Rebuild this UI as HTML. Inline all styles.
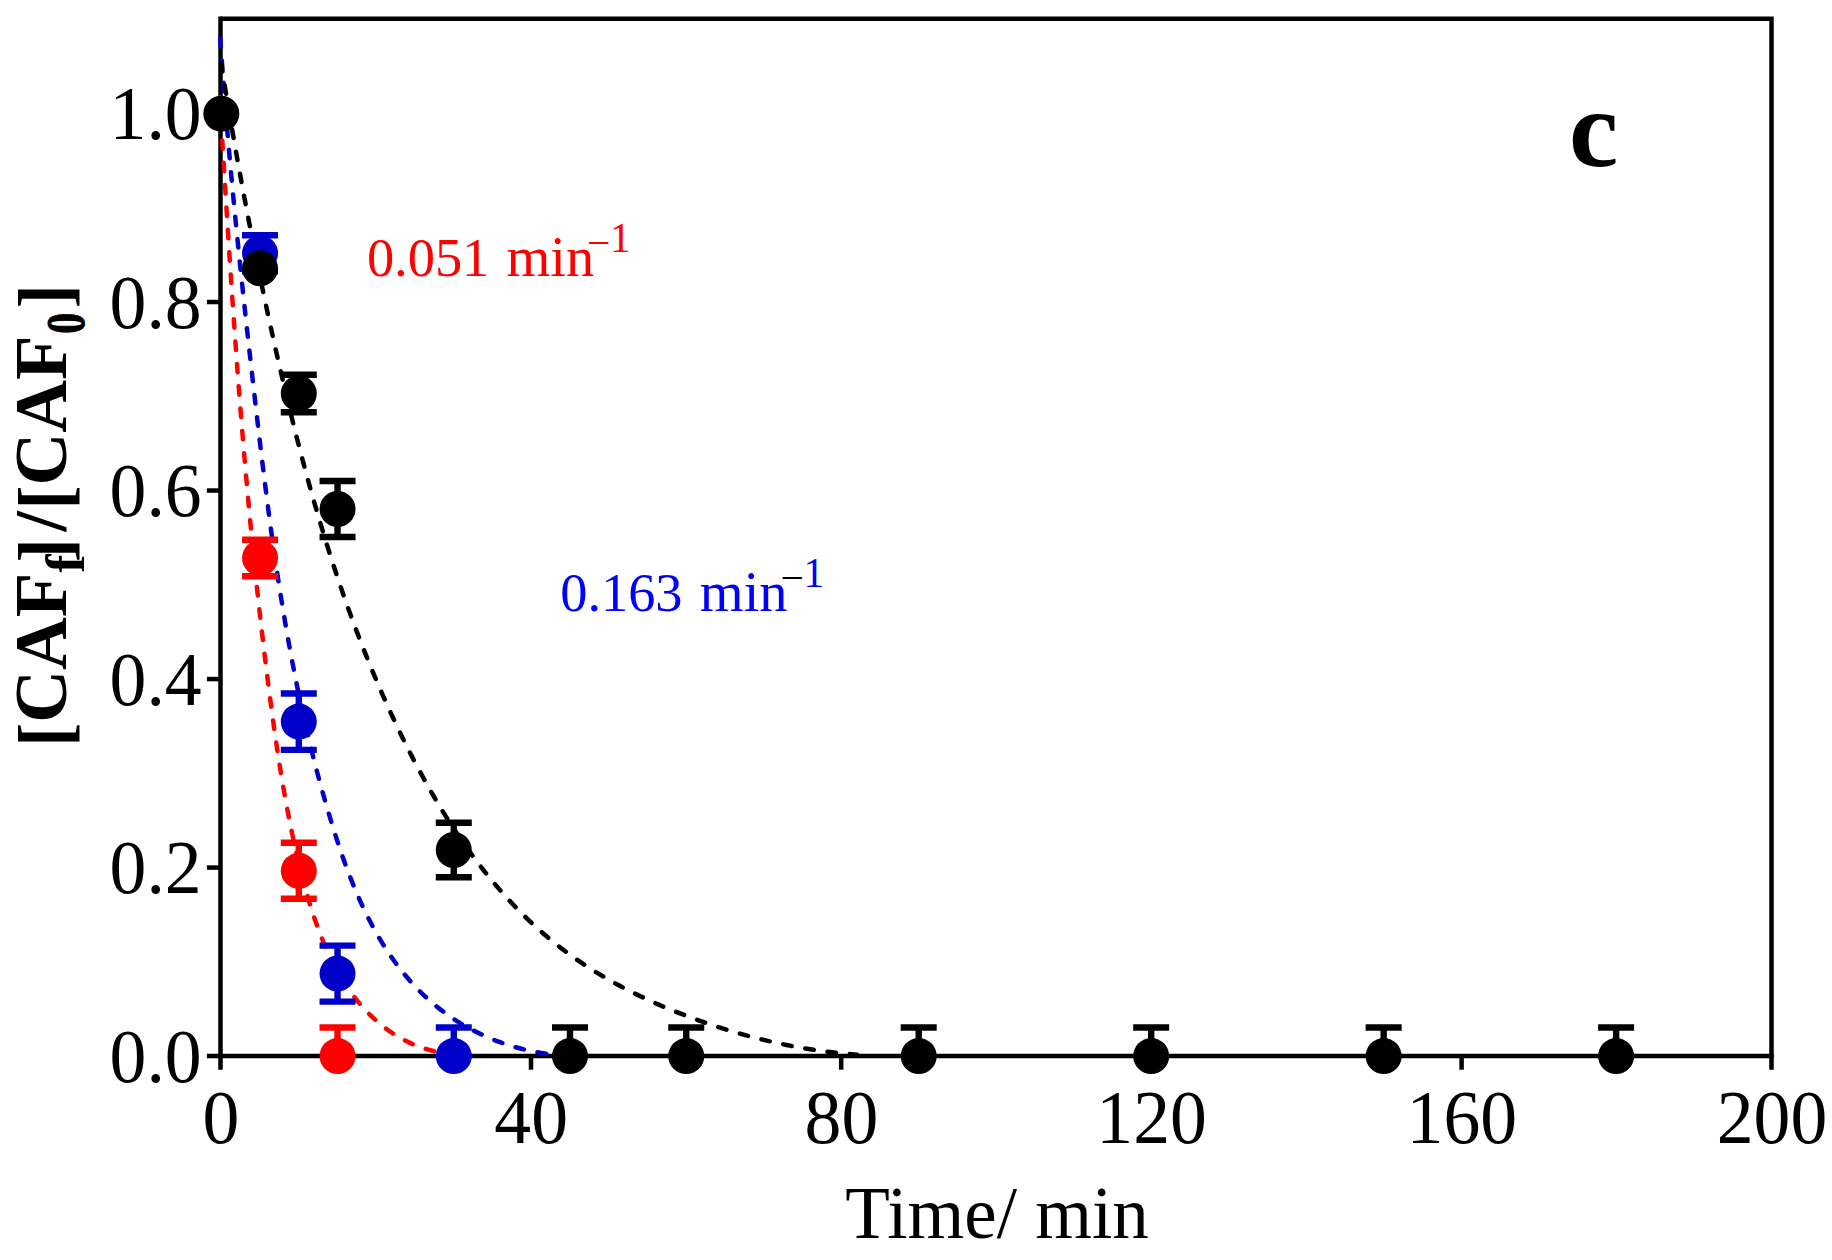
<!DOCTYPE html>
<html lang="en">
<head>
<meta charset="utf-8">
<title>CAF degradation kinetics (panel c)</title>
<style>
html,body{margin:0;padding:0;background:#fff;}
body{width:1832px;height:1260px;overflow:hidden;}
svg{display:block;}
text{white-space:pre;}
</style>
</head>
<body>
<svg width="1832" height="1260" viewBox="0 0 1832 1260">
<rect width="1832" height="1260" fill="#fff"/>
<g id="frame"><path d="M220.50 18.80 H1771.50 V1069.70" fill="none" stroke="#000" stroke-width="4.5" stroke-linejoin="miter"/>
<path d="M220.50 16.55 V1069.70" fill="none" stroke="#000" stroke-width="4.5"/>
<path d="M206.90 1056.10 H1773.75" fill="none" stroke="#000" stroke-width="4.5"/>
<path d="M531.00 1056.10 V1069.70" stroke="#000" stroke-width="4.5"/>
<path d="M841.20 1056.10 V1069.70" stroke="#000" stroke-width="4.5"/>
<path d="M1151.40 1056.10 V1069.70" stroke="#000" stroke-width="4.5"/>
<path d="M1461.60 1056.10 V1069.70" stroke="#000" stroke-width="4.5"/>
<path d="M206.90 867.58 H220.50" stroke="#000" stroke-width="4.5"/>
<path d="M206.90 679.06 H220.50" stroke="#000" stroke-width="4.5"/>
<path d="M206.90 490.54 H220.50" stroke="#000" stroke-width="4.5"/>
<path d="M206.90 302.02 H220.50" stroke="#000" stroke-width="4.5"/>
<path d="M206.90 113.50 H220.50" stroke="#000" stroke-width="4.5"/></g>
<g id="fits"><path d="M219.68 97.23C219.73 98.08 219.89 100.62 219.99 102.31C220.09 104.00 220.19 105.69 220.29 107.38C220.40 109.07 220.50 110.77 220.60 112.46C220.70 114.15 220.80 115.84 220.90 117.54C221.01 119.23 221.11 120.92 221.21 122.61C221.31 124.31 221.41 126.00 221.52 127.69C221.62 129.39 221.72 131.08 221.82 132.77C221.93 134.47 222.03 136.16 222.13 137.85C222.23 139.55 222.34 141.24 222.44 142.94C222.54 144.63 222.64 146.32 222.75 148.02C222.85 149.71 222.95 151.41 223.06 153.10C223.16 154.80 223.26 156.49 223.37 158.19C223.47 159.88 223.57 161.58 223.68 163.27C223.78 164.97 223.88 166.66 223.99 168.36C224.09 170.05 224.19 171.75 224.30 173.45C224.40 175.14 224.51 176.84 224.61 178.53C224.72 180.23 224.82 181.93 224.92 183.62C225.03 185.32 225.13 187.02 225.24 188.71C225.34 190.41 225.45 192.11 225.56 193.80C225.66 195.50 225.77 197.20 225.87 198.89C225.98 200.59 226.08 202.29 226.19 203.99C226.30 205.68 226.40 207.38 226.51 209.08C226.62 210.78 226.72 212.47 226.83 214.17C226.94 215.87 227.04 217.57 227.15 219.26C227.26 220.96 227.37 222.66 227.47 224.36C227.58 226.06 227.69 227.75 227.80 229.45C227.91 231.15 228.01 232.85 228.12 234.55C228.23 236.25 228.34 237.95 228.45 239.64C228.56 241.34 228.67 243.04 228.78 244.74C228.89 246.44 229.00 248.14 229.11 249.84C229.22 251.54 229.33 253.23 229.44 254.93C229.55 256.63 229.66 258.33 229.77 260.03C229.89 261.73 230.00 263.43 230.11 265.13C230.22 266.83 230.33 268.53 230.45 270.23C230.56 271.93 230.67 273.63 230.78 275.33C230.90 277.03 231.01 278.73 231.13 280.42C231.24 282.12 231.35 283.82 231.47 285.52C231.58 287.22 231.70 288.92 231.81 290.62C231.93 292.32 232.04 294.02 232.16 295.72C232.27 297.42 232.39 299.12 232.51 300.82C232.62 302.52 232.74 304.22 232.86 305.92C232.97 307.62 233.09 309.32 233.21 311.02C233.33 312.72 233.45 314.42 233.56 316.12C233.68 317.82 233.80 319.52 233.92 321.22C234.04 322.92 234.16 324.62 234.28 326.32C234.40 328.03 234.52 329.73 234.64 331.43C234.76 333.13 234.88 334.83 235.01 336.53C235.13 338.23 235.25 339.93 235.37 341.63C235.50 343.33 235.62 345.03 235.74 346.73C235.86 348.43 235.99 350.13 236.11 351.83C236.24 353.53 236.36 355.23 236.49 356.93C236.61 358.63 236.74 360.33 236.86 362.03C236.99 363.73 237.12 365.43 237.24 367.13C237.37 368.83 237.50 370.53 237.62 372.23C237.75 373.93 237.88 375.63 238.01 377.33C238.14 379.03 238.27 380.73 238.40 382.43C238.53 384.13 238.66 385.83 238.79 387.53C238.92 389.23 239.05 390.93 239.18 392.63C239.31 394.33 239.45 396.03 239.58 397.73C239.71 399.43 239.84 401.13 239.98 402.83C240.11 404.53 240.24 406.23 240.38 407.93C240.51 409.63 240.65 411.33 240.79 413.03C240.92 414.73 241.06 416.43 241.19 418.12C241.33 419.82 241.47 421.52 241.61 423.22C241.74 424.92 241.88 426.62 242.02 428.32C242.16 430.02 242.30 431.72 242.44 433.42C242.58 435.12 242.72 436.81 242.86 438.51C243.00 440.21 243.14 441.91 243.29 443.61C243.43 445.31 243.57 447.01 243.72 448.71C243.86 450.40 244.00 452.10 244.15 453.80C244.29 455.50 244.44 457.20 244.58 458.90C244.73 460.59 244.88 462.29 245.02 463.99C245.17 465.69 245.32 467.39 245.47 469.08C245.61 470.78 245.76 472.48 245.91 474.18C246.06 475.87 246.21 477.57 246.36 479.27C246.51 480.97 246.67 482.66 246.82 484.36C246.97 486.06 247.12 487.75 247.28 489.45C247.43 491.15 247.58 492.84 247.74 494.54C247.89 496.24 248.05 497.93 248.20 499.63C248.36 501.33 248.52 503.02 248.67 504.72C248.83 506.42 248.99 508.11 249.15 509.81C249.31 511.50 249.47 513.20 249.63 514.89C249.79 516.59 249.95 518.29 250.11 519.98C250.27 521.68 250.43 523.37 250.59 525.07C250.76 526.76 250.92 528.46 251.09 530.15C251.25 531.85 251.41 533.54 251.58 535.24C251.75 536.93 251.91 538.62 252.08 540.32C252.25 542.01 252.41 543.71 252.58 545.40C252.75 547.09 252.92 548.79 253.09 550.48C253.26 552.17 253.43 553.87 253.60 555.56C253.78 557.25 253.95 558.95 254.12 560.64C254.29 562.33 254.47 564.03 254.64 565.72C254.82 567.41 254.99 569.10 255.17 570.80C255.35 572.49 255.52 574.18 255.70 575.87C255.88 577.56 256.06 579.25 256.24 580.95C256.42 582.64 256.60 584.33 256.78 586.02C256.96 587.71 257.14 589.40 257.32 591.09C257.50 592.78 257.69 594.47 257.87 596.16C258.06 597.85 258.24 599.54 258.43 601.23C258.61 602.92 258.80 604.61 258.99 606.30C259.17 607.99 259.36 609.68 259.55 611.37C259.74 613.06 259.93 614.75 260.12 616.44C260.31 618.12 260.51 619.81 260.70 621.50C260.89 623.19 261.08 624.88 261.28 626.56C261.47 628.25 261.67 629.94 261.86 631.63C262.06 633.31 262.26 635.00 262.46 636.69C262.65 638.37 262.85 640.06 263.05 641.75C263.25 643.43 263.45 645.12 263.65 646.81C263.85 648.49 264.06 650.18 264.26 651.86C264.46 653.55 264.67 655.23 264.87 656.92C265.08 658.60 265.28 660.29 265.49 661.97C265.70 663.66 265.90 665.34 266.11 667.02C266.32 668.71 266.53 670.39 266.74 672.07C266.95 673.76 267.17 675.44 267.38 677.12C267.59 678.81 267.80 680.49 268.02 682.17C268.23 683.85 268.45 685.54 268.66 687.22C268.88 688.90 269.10 690.58 269.32 692.26C269.53 693.94 269.75 695.62 269.97 697.30C270.19 698.98 270.42 700.67 270.64 702.35C270.86 704.03 271.08 705.70 271.31 707.38C271.53 709.06 271.76 710.74 271.98 712.42C272.21 714.10 272.44 715.78 272.67 717.46C272.90 719.14 273.13 720.82 273.36 722.49C273.59 724.17 273.83 725.85 274.06 727.53C274.30 729.20 274.53 730.88 274.77 732.56C275.01 734.24 275.25 735.91 275.49 737.59C275.73 739.27 275.98 740.94 276.22 742.62C276.47 744.30 276.72 745.97 276.97 747.65C277.22 749.33 277.47 751.00 277.72 752.68C277.98 754.35 278.23 756.03 278.49 757.70C278.75 759.38 279.01 761.06 279.27 762.73C279.54 764.41 279.80 766.08 280.07 767.76C280.34 769.43 280.61 771.11 280.88 772.78C281.15 774.46 281.43 776.13 281.71 777.81C281.99 779.48 282.27 781.16 282.55 782.83C282.84 784.51 283.12 786.18 283.41 787.86C283.70 789.53 284.00 791.21 284.29 792.88C284.59 794.56 284.89 796.23 285.19 797.91C285.49 799.58 285.80 801.26 286.11 802.93C286.42 804.61 286.73 806.28 287.04 807.96C287.36 809.63 287.68 811.31 288.00 812.98C288.32 814.66 288.65 816.33 288.98 818.01C289.31 819.69 289.64 821.36 289.98 823.04C290.32 824.71 290.66 826.39 291.00 828.06C291.35 829.74 291.70 831.41 292.05 833.09C292.41 834.77 292.76 836.44 293.12 838.12C293.49 839.79 293.85 841.47 294.22 843.15C294.59 844.82 294.96 846.50 295.34 848.18C295.72 849.85 296.10 851.53 296.49 853.21C296.88 854.89 297.27 856.56 297.67 858.24C298.06 859.92 298.46 861.60 298.87 863.27C299.27 864.95 299.68 866.63 300.10 868.31C300.52 869.99 300.94 871.67 301.36 873.34C301.79 875.02 302.22 876.70 302.65 878.38C303.09 880.05 303.53 881.73 303.98 883.41C304.43 885.08 304.88 886.75 305.34 888.43C305.81 890.10 306.27 891.77 306.75 893.44C307.22 895.10 307.70 896.77 308.19 898.43C308.68 900.10 309.18 901.76 309.68 903.41C310.19 905.07 310.70 906.72 311.22 908.37C311.74 910.02 312.27 911.67 312.81 913.31C313.34 914.95 313.89 916.59 314.44 918.22C315.00 919.85 315.56 921.48 316.14 923.10C316.71 924.72 317.30 926.34 317.89 927.95C318.48 929.56 319.09 931.17 319.70 932.77C320.31 934.37 320.94 935.96 321.57 937.55C322.21 939.13 322.85 940.71 323.51 942.29C324.17 943.86 324.83 945.42 325.51 946.98C326.19 948.54 326.89 950.09 327.59 951.63C328.29 953.17 329.01 954.70 329.74 956.23C330.47 957.75 331.21 959.27 331.96 960.77C332.71 962.28 333.48 963.78 334.26 965.26C335.04 966.75 335.83 968.23 336.64 969.70C337.45 971.16 338.27 972.62 339.10 974.07C339.94 975.51 340.79 976.95 341.65 978.37C342.52 979.80 343.40 981.21 344.29 982.61C345.18 984.01 346.09 985.40 347.02 986.78C347.94 988.16 348.88 989.52 349.84 990.87C350.79 992.23 351.76 993.57 352.75 994.89C353.74 996.22 354.74 997.53 355.76 998.83C356.78 1000.13 357.82 1001.42 358.88 1002.69C359.93 1003.96 361.00 1005.22 362.09 1006.46C363.18 1007.70 364.29 1008.92 365.41 1010.13C366.54 1011.34 367.68 1012.53 368.84 1013.70C370.00 1014.87 371.18 1016.03 372.38 1017.17C373.57 1018.30 374.79 1019.42 376.02 1020.52C377.26 1021.62 378.51 1022.70 379.78 1023.76C381.05 1024.81 382.34 1025.85 383.65 1026.87C384.96 1027.88 386.29 1028.88 387.64 1029.85C388.99 1030.82 390.36 1031.77 391.75 1032.69C393.14 1033.62 394.55 1034.52 395.98 1035.40C397.41 1036.27 398.86 1037.13 400.33 1037.95C401.80 1038.78 403.29 1039.58 404.81 1040.35C406.32 1041.13 407.85 1041.88 409.41 1042.60C410.97 1043.32 412.54 1044.01 414.14 1044.67C415.74 1045.34 417.36 1045.97 419.00 1046.58C420.65 1047.19 422.31 1047.76 424.00 1048.31C425.69 1048.85 427.40 1049.37 429.13 1049.85C430.86 1050.34 433.07 1050.88 434.39 1051.21C435.72 1051.54 436.63 1051.71 437.08 1051.81" fill="none" stroke="#ff0000" stroke-width="4.5" stroke-linecap="round" stroke-dasharray="8.50 13.90" stroke-dashoffset="1.57"/><path d="M220.28 38.37C220.34 39.31 220.53 42.14 220.66 44.03C220.79 45.92 220.92 47.80 221.05 49.69C221.18 51.58 221.31 53.46 221.44 55.35C221.58 57.24 221.71 59.12 221.84 61.01C221.98 62.90 222.12 64.78 222.25 66.67C222.39 68.56 222.53 70.45 222.67 72.33C222.81 74.22 222.95 76.11 223.09 77.99C223.23 79.88 223.38 81.77 223.52 83.65C223.66 85.54 223.81 87.43 223.95 89.32C224.10 91.20 224.25 93.09 224.40 94.98C224.54 96.86 224.69 98.75 224.84 100.64C224.99 102.52 225.14 104.41 225.30 106.30C225.45 108.18 225.60 110.07 225.75 111.96C225.91 113.85 226.06 115.73 226.22 117.62C226.37 119.51 226.53 121.39 226.69 123.28C226.85 125.17 227.01 127.05 227.17 128.94C227.33 130.83 227.49 132.72 227.65 134.60C227.81 136.49 227.97 138.38 228.14 140.26C228.30 142.15 228.46 144.04 228.63 145.92C228.79 147.81 228.96 149.70 229.13 151.58C229.29 153.47 229.46 155.36 229.63 157.24C229.80 159.13 229.97 161.02 230.14 162.90C230.31 164.79 230.48 166.68 230.65 168.56C230.82 170.45 231.00 172.34 231.17 174.22C231.35 176.11 231.52 178.00 231.70 179.88C231.87 181.77 232.05 183.66 232.22 185.54C232.40 187.43 232.58 189.32 232.76 191.20C232.94 193.09 233.12 194.98 233.30 196.86C233.48 198.75 233.66 200.64 233.84 202.52C234.02 204.41 234.20 206.29 234.39 208.18C234.57 210.07 234.75 211.95 234.94 213.84C235.12 215.73 235.31 217.61 235.49 219.50C235.68 221.38 235.87 223.27 236.05 225.16C236.24 227.04 236.43 228.93 236.62 230.81C236.81 232.70 237.00 234.59 237.19 236.47C237.38 238.36 237.57 240.24 237.76 242.13C237.95 244.02 238.14 245.90 238.33 247.79C238.53 249.67 238.72 251.56 238.91 253.44C239.11 255.33 239.30 257.22 239.50 259.10C239.69 260.99 239.89 262.87 240.09 264.76C240.28 266.64 240.48 268.53 240.68 270.41C240.87 272.30 241.07 274.18 241.27 276.07C241.47 277.96 241.67 279.84 241.87 281.73C242.07 283.61 242.27 285.50 242.47 287.38C242.67 289.27 242.87 291.15 243.07 293.04C243.28 294.92 243.48 296.81 243.68 298.69C243.88 300.58 244.09 302.46 244.29 304.35C244.50 306.23 244.70 308.11 244.91 310.00C245.11 311.88 245.32 313.77 245.52 315.65C245.73 317.54 245.93 319.42 246.14 321.31C246.35 323.19 246.56 325.07 246.76 326.96C246.97 328.84 247.18 330.73 247.39 332.61C247.60 334.50 247.81 336.38 248.02 338.26C248.22 340.15 248.43 342.03 248.64 343.91C248.85 345.80 249.07 347.68 249.28 349.57C249.49 351.45 249.70 353.33 249.91 355.22C250.12 357.10 250.33 358.98 250.55 360.87C250.76 362.75 250.97 364.63 251.19 366.52C251.40 368.40 251.61 370.28 251.83 372.17C252.04 374.05 252.25 375.93 252.47 377.82C252.68 379.70 252.90 381.58 253.11 383.46C253.33 385.35 253.54 387.23 253.76 389.11C253.97 390.99 254.19 392.88 254.41 394.76C254.62 396.64 254.84 398.52 255.06 400.41C255.27 402.29 255.49 404.17 255.71 406.05C255.92 407.93 256.14 409.82 256.36 411.70C256.58 413.58 256.80 415.46 257.01 417.34C257.23 419.22 257.45 421.11 257.67 422.99C257.89 424.87 258.11 426.75 258.33 428.63C258.55 430.51 258.77 432.39 259.00 434.27C259.22 436.16 259.44 438.04 259.66 439.92C259.89 441.80 260.11 443.68 260.33 445.56C260.56 447.44 260.78 449.32 261.01 451.20C261.23 453.08 261.46 454.96 261.69 456.84C261.91 458.72 262.14 460.60 262.37 462.48C262.60 464.36 262.83 466.24 263.06 468.11C263.29 469.99 263.52 471.87 263.75 473.75C263.99 475.63 264.22 477.51 264.45 479.39C264.69 481.26 264.92 483.14 265.16 485.02C265.40 486.90 265.63 488.78 265.87 490.65C266.11 492.53 266.35 494.41 266.59 496.29C266.83 498.16 267.07 500.04 267.32 501.92C267.56 503.79 267.80 505.67 268.05 507.54C268.29 509.42 268.54 511.30 268.79 513.17C269.04 515.05 269.29 516.92 269.54 518.80C269.79 520.67 270.04 522.55 270.29 524.42C270.55 526.30 270.80 528.17 271.06 530.05C271.32 531.92 271.57 533.79 271.83 535.67C272.09 537.54 272.35 539.42 272.62 541.29C272.88 543.16 273.14 545.03 273.41 546.91C273.68 548.78 273.94 550.65 274.21 552.52C274.48 554.39 274.75 556.27 275.02 558.14C275.30 560.01 275.57 561.88 275.85 563.75C276.12 565.62 276.40 567.49 276.68 569.36C276.96 571.23 277.24 573.10 277.53 574.97C277.81 576.84 278.09 578.71 278.38 580.58C278.67 582.45 278.96 584.32 279.25 586.18C279.54 588.05 279.83 589.92 280.13 591.79C280.42 593.65 280.72 595.52 281.02 597.39C281.32 599.25 281.62 601.12 281.93 602.99C282.23 604.85 282.54 606.72 282.84 608.58C283.15 610.45 283.46 612.31 283.77 614.18C284.09 616.04 284.40 617.91 284.72 619.77C285.04 621.63 285.36 623.50 285.68 625.36C286.00 627.22 286.32 629.08 286.65 630.95C286.98 632.81 287.31 634.67 287.64 636.53C287.97 638.39 288.30 640.25 288.64 642.11C288.98 643.97 289.32 645.83 289.66 647.69C290.00 649.55 290.34 651.41 290.69 653.27C291.04 655.13 291.39 656.99 291.74 658.85C292.09 660.70 292.45 662.56 292.80 664.42C293.16 666.28 293.52 668.13 293.89 669.99C294.25 671.84 294.62 673.70 294.98 675.56C295.35 677.41 295.72 679.26 296.10 681.12C296.47 682.97 296.85 684.83 297.23 686.68C297.61 688.53 298.00 690.39 298.38 692.24C298.77 694.09 299.16 695.94 299.55 697.79C299.94 699.65 300.34 701.50 300.74 703.35C301.14 705.20 301.54 707.05 301.94 708.90C302.35 710.74 302.76 712.59 303.17 714.44C303.58 716.29 303.99 718.14 304.41 719.98C304.83 721.83 305.25 723.68 305.68 725.52C306.10 727.37 306.53 729.22 306.96 731.06C307.39 732.91 307.82 734.75 308.26 736.59C308.70 738.44 309.14 740.28 309.59 742.12C310.03 743.97 310.48 745.81 310.93 747.65C311.38 749.49 311.84 751.33 312.30 753.18C312.76 755.02 313.22 756.86 313.69 758.70C314.15 760.53 314.62 762.37 315.10 764.21C315.57 766.05 316.05 767.89 316.53 769.72C317.01 771.56 317.49 773.40 317.98 775.23C318.47 777.07 318.96 778.91 319.46 780.74C319.96 782.57 320.46 784.41 320.96 786.24C321.47 788.08 321.97 789.91 322.49 791.74C323.00 793.57 323.51 795.40 324.03 797.23C324.55 799.07 325.08 800.90 325.60 802.73C326.13 804.55 326.66 806.38 327.20 808.21C327.74 810.04 328.28 811.87 328.82 813.70C329.37 815.52 329.91 817.35 330.47 819.17C331.02 821.00 331.58 822.82 332.14 824.65C332.70 826.47 333.27 828.29 333.84 830.12C334.41 831.94 334.99 833.76 335.57 835.57C336.15 837.39 336.74 839.21 337.33 841.02C337.93 842.83 338.53 844.65 339.13 846.45C339.74 848.26 340.35 850.07 340.97 851.87C341.59 853.68 342.21 855.48 342.84 857.27C343.47 859.07 344.11 860.86 344.76 862.65C345.40 864.44 346.06 866.23 346.72 868.01C347.38 869.79 348.05 871.57 348.73 873.34C349.40 875.11 350.09 876.88 350.78 878.64C351.47 880.41 352.18 882.17 352.89 883.92C353.60 885.67 354.32 887.42 355.05 889.16C355.77 890.91 356.51 892.64 357.26 894.37C358.01 896.10 358.76 897.83 359.53 899.55C360.30 901.27 361.08 902.98 361.86 904.68C362.65 906.39 363.45 908.09 364.26 909.78C365.06 911.47 365.88 913.16 366.71 914.83C367.54 916.51 368.39 918.18 369.24 919.84C370.09 921.50 370.95 923.16 371.83 924.80C372.71 926.45 373.59 928.08 374.50 929.71C375.40 931.34 376.31 932.96 377.23 934.57C378.16 936.18 379.09 937.78 380.05 939.38C381.00 940.97 381.96 942.55 382.94 944.13C383.91 945.70 384.90 947.26 385.91 948.82C386.91 950.37 387.93 951.91 388.96 953.45C389.99 954.98 391.04 956.50 392.10 958.01C393.15 959.52 394.23 961.02 395.31 962.51C396.40 963.99 397.50 965.47 398.62 966.93C399.74 968.39 400.87 969.84 402.01 971.28C403.16 972.71 404.32 974.14 405.49 975.55C406.67 976.96 407.86 978.35 409.06 979.73C410.26 981.12 411.48 982.48 412.72 983.84C413.95 985.19 415.20 986.53 416.47 987.85C417.74 989.17 419.02 990.48 420.31 991.77C421.61 993.06 422.92 994.33 424.25 995.59C425.58 996.85 426.93 998.09 428.29 999.31C429.65 1000.54 431.02 1001.75 432.42 1002.93C433.81 1004.12 435.22 1005.30 436.64 1006.45C438.06 1007.61 439.50 1008.74 440.96 1009.86C442.41 1010.98 443.88 1012.08 445.37 1013.17C446.85 1014.25 448.35 1015.31 449.87 1016.36C451.38 1017.41 452.91 1018.44 454.45 1019.45C456.00 1020.45 457.55 1021.45 459.13 1022.42C460.70 1023.39 462.29 1024.34 463.89 1025.28C465.49 1026.21 467.10 1027.12 468.73 1028.02C470.36 1028.91 472.00 1029.79 473.65 1030.65C475.31 1031.50 476.98 1032.34 478.66 1033.15C480.34 1033.97 482.03 1034.77 483.74 1035.54C485.45 1036.32 487.17 1037.08 488.90 1037.81C490.64 1038.55 492.38 1039.26 494.14 1039.96C495.90 1040.65 497.67 1041.32 499.45 1041.98C501.24 1042.63 503.03 1043.26 504.84 1043.87C506.64 1044.48 508.46 1045.07 510.29 1045.64C512.12 1046.20 513.96 1046.75 515.82 1047.27C517.67 1047.80 519.53 1048.30 521.41 1048.78C523.29 1049.26 525.17 1049.72 527.07 1050.15C528.97 1050.59 530.87 1051.00 532.79 1051.40C534.71 1051.79 536.64 1052.16 538.58 1052.50C540.52 1052.85 542.96 1053.24 544.43 1053.47C545.90 1053.70 546.89 1053.83 547.38 1053.90" fill="none" stroke="#0000c8" stroke-width="4.5" stroke-linecap="round" stroke-dasharray="8.50 13.91" stroke-dashoffset="0.20"/><path d="M220.62 60.13C220.78 61.19 221.29 64.36 221.63 66.48C221.97 68.60 222.31 70.72 222.65 72.84C222.99 74.96 223.34 77.08 223.68 79.20C224.03 81.32 224.37 83.44 224.72 85.56C225.07 87.68 225.41 89.80 225.76 91.92C226.12 94.04 226.47 96.16 226.82 98.28C227.17 100.40 227.53 102.52 227.88 104.64C228.24 106.76 228.60 108.88 228.95 111.00C229.31 113.12 229.67 115.24 230.03 117.36C230.40 119.48 230.76 121.60 231.12 123.72C231.49 125.84 231.85 127.96 232.22 130.08C232.59 132.20 232.95 134.32 233.32 136.44C233.69 138.56 234.07 140.68 234.44 142.80C234.81 144.92 235.19 147.04 235.56 149.16C235.94 151.28 236.31 153.40 236.69 155.52C237.07 157.64 237.45 159.76 237.83 161.88C238.21 164.00 238.60 166.12 238.98 168.24C239.37 170.36 239.75 172.48 240.14 174.60C240.53 176.72 240.91 178.84 241.30 180.96C241.70 183.08 242.09 185.20 242.48 187.31C242.87 189.43 243.27 191.55 243.66 193.67C244.06 195.79 244.46 197.91 244.86 200.03C245.26 202.14 245.66 204.26 246.06 206.38C246.46 208.50 246.87 210.62 247.27 212.73C247.68 214.85 248.08 216.97 248.49 219.09C248.90 221.20 249.31 223.32 249.72 225.44C250.13 227.55 250.55 229.67 250.96 231.79C251.37 233.90 251.79 236.02 252.21 238.13C252.63 240.25 253.04 242.37 253.47 244.48C253.89 246.60 254.31 248.71 254.73 250.83C255.16 252.94 255.58 255.06 256.01 257.17C256.43 259.28 256.86 261.40 257.29 263.51C257.72 265.62 258.15 267.74 258.59 269.85C259.02 271.96 259.46 274.08 259.89 276.19C260.33 278.30 260.77 280.41 261.21 282.53C261.64 284.64 262.09 286.75 262.53 288.86C262.97 290.97 263.42 293.08 263.86 295.19C264.31 297.30 264.75 299.41 265.20 301.52C265.65 303.63 266.10 305.74 266.56 307.85C267.01 309.96 267.46 312.06 267.92 314.17C268.37 316.28 268.83 318.39 269.29 320.49C269.75 322.60 270.21 324.71 270.67 326.81C271.13 328.92 271.60 331.03 272.06 333.13C272.53 335.24 272.99 337.34 273.46 339.45C273.93 341.55 274.40 343.65 274.87 345.76C275.35 347.86 275.82 349.96 276.30 352.07C276.77 354.17 277.25 356.27 277.73 358.37C278.20 360.47 278.69 362.57 279.17 364.67C279.65 366.77 280.13 368.87 280.62 370.97C281.10 373.07 281.59 375.17 282.08 377.27C282.57 379.37 283.06 381.47 283.55 383.56C284.05 385.66 284.54 387.76 285.04 389.85C285.54 391.95 286.04 394.04 286.54 396.14C287.04 398.23 287.54 400.33 288.05 402.42C288.55 404.51 289.06 406.60 289.57 408.70C290.08 410.79 290.59 412.88 291.10 414.97C291.62 417.06 292.14 419.15 292.65 421.24C293.17 423.33 293.69 425.41 294.22 427.50C294.74 429.59 295.27 431.68 295.80 433.76C296.33 435.85 296.86 437.93 297.39 440.02C297.92 442.10 298.46 444.19 299.00 446.27C299.54 448.35 300.08 450.43 300.62 452.51C301.17 454.59 301.71 456.67 302.26 458.75C302.81 460.83 303.37 462.91 303.92 464.99C304.48 467.07 305.04 469.14 305.60 471.22C306.16 473.29 306.72 475.37 307.29 477.44C307.86 479.52 308.43 481.59 309.00 483.66C309.57 485.73 310.15 487.80 310.73 489.87C311.31 491.94 311.89 494.01 312.47 496.08C313.06 498.15 313.65 500.21 314.24 502.28C314.83 504.35 315.43 506.41 316.03 508.48C316.63 510.54 317.23 512.60 317.83 514.66C318.44 516.72 319.05 518.79 319.66 520.84C320.27 522.90 320.89 524.96 321.51 527.02C322.13 529.08 322.75 531.13 323.38 533.19C324.00 535.24 324.63 537.30 325.27 539.35C325.90 541.40 326.54 543.45 327.18 545.50C327.82 547.55 328.47 549.60 329.12 551.65C329.76 553.70 330.42 555.75 331.07 557.79C331.73 559.84 332.39 561.88 333.06 563.92C333.72 565.97 334.39 568.01 335.06 570.05C335.73 572.09 336.41 574.13 337.09 576.16C337.77 578.20 338.46 580.24 339.15 582.27C339.84 584.31 340.53 586.34 341.23 588.37C341.92 590.41 342.63 592.44 343.33 594.47C344.04 596.50 344.75 598.53 345.46 600.55C346.18 602.58 346.90 604.60 347.62 606.63C348.34 608.65 349.07 610.68 349.80 612.70C350.54 614.72 351.27 616.74 352.02 618.76C352.76 620.77 353.50 622.79 354.26 624.81C355.01 626.82 355.76 628.83 356.52 630.85C357.28 632.86 358.05 634.87 358.82 636.88C359.59 638.89 360.36 640.90 361.14 642.90C361.92 644.91 362.71 646.91 363.50 648.92C364.29 650.92 365.08 652.92 365.88 654.92C366.68 656.92 367.49 658.92 368.30 660.91C369.11 662.91 369.92 664.91 370.74 666.90C371.56 668.89 372.39 670.88 373.22 672.87C374.05 674.86 374.88 676.85 375.72 678.84C376.56 680.82 377.41 682.81 378.26 684.79C379.11 686.78 379.97 688.76 380.83 690.74C381.70 692.72 382.56 694.69 383.44 696.67C384.31 698.65 385.19 700.62 386.07 702.59C386.96 704.57 387.85 706.54 388.74 708.51C389.64 710.47 390.54 712.44 391.45 714.41C392.36 716.37 393.27 718.34 394.19 720.30C395.11 722.26 396.03 724.22 396.96 726.18C397.89 728.13 398.83 730.09 399.77 732.04C400.71 734.00 401.66 735.95 402.61 737.90C403.57 739.85 404.53 741.80 405.50 743.74C406.46 745.68 407.44 747.63 408.42 749.57C409.40 751.50 410.38 753.44 411.37 755.37C412.37 757.31 413.36 759.24 414.37 761.16C415.38 763.09 416.39 765.01 417.41 766.93C418.43 768.85 419.45 770.77 420.48 772.68C421.52 774.59 422.56 776.50 423.60 778.40C424.65 780.30 425.70 782.20 426.77 784.10C427.83 785.99 428.89 787.88 429.97 789.77C431.05 791.65 432.13 793.53 433.22 795.41C434.31 797.28 435.41 799.15 436.51 801.02C437.62 802.88 438.73 804.74 439.85 806.60C440.97 808.45 442.10 810.30 443.24 812.14C444.38 813.99 445.52 815.82 446.67 817.65C447.82 819.49 448.98 821.31 450.15 823.13C451.32 824.95 452.50 826.76 453.68 828.57C454.87 830.37 456.06 832.17 457.26 833.96C458.47 835.75 459.68 837.54 460.89 839.32C462.11 841.10 463.34 842.87 464.58 844.63C465.81 846.39 467.06 848.15 468.31 849.90C469.56 851.65 470.83 853.39 472.10 855.12C473.37 856.85 474.65 858.58 475.94 860.29C477.23 862.01 478.53 863.72 479.83 865.42C481.14 867.12 482.46 868.81 483.79 870.49C485.11 872.18 486.45 873.85 487.79 875.51C489.14 877.18 490.49 878.84 491.86 880.48C493.22 882.13 494.59 883.77 495.98 885.39C497.36 887.02 498.76 888.64 500.16 890.25C501.56 891.86 502.98 893.45 504.40 895.04C505.82 896.63 507.26 898.21 508.70 899.78C510.14 901.35 511.60 902.90 513.06 904.45C514.52 906.00 516.00 907.53 517.48 909.06C518.97 910.59 520.46 912.10 521.97 913.60C523.48 915.11 524.99 916.60 526.52 918.08C528.05 919.56 529.58 921.03 531.13 922.49C532.68 923.95 534.24 925.39 535.81 926.83C537.38 928.26 538.96 929.68 540.56 931.09C542.15 932.50 543.75 933.90 545.37 935.29C546.98 936.67 548.61 938.05 550.25 939.41C551.89 940.77 553.53 942.11 555.20 943.45C556.86 944.78 558.53 946.10 560.21 947.41C561.90 948.72 563.59 950.02 565.30 951.30C567.01 952.58 568.72 953.85 570.46 955.10C572.19 956.35 573.93 957.60 575.68 958.82C577.44 960.05 579.20 961.26 580.98 962.46C582.75 963.66 584.54 964.85 586.34 966.02C588.13 967.20 589.94 968.36 591.76 969.51C593.58 970.66 595.40 971.79 597.24 972.91C599.08 974.03 600.92 975.14 602.78 976.24C604.63 977.34 606.50 978.42 608.37 979.49C610.24 980.56 612.12 981.62 614.01 982.67C615.90 983.71 617.80 984.75 619.71 985.77C621.61 986.79 623.53 987.80 625.45 988.80C627.37 989.80 629.29 990.78 631.23 991.76C633.16 992.73 635.11 993.69 637.05 994.64C639.00 995.59 640.96 996.53 642.92 997.46C644.88 998.38 646.84 999.30 648.82 1000.20C650.79 1001.10 652.77 1002.00 654.75 1002.88C656.73 1003.76 658.72 1004.63 660.71 1005.49C662.71 1006.35 664.70 1007.19 666.70 1008.03C668.71 1008.87 670.71 1009.69 672.72 1010.51C674.73 1011.32 676.75 1012.12 678.76 1012.92C680.78 1013.71 682.80 1014.49 684.82 1015.26C686.85 1016.04 688.87 1016.80 690.90 1017.55C692.93 1018.30 694.96 1019.04 697.00 1019.77C699.03 1020.50 701.06 1021.22 703.10 1021.93C705.14 1022.64 707.18 1023.34 709.22 1024.03C711.26 1024.72 713.30 1025.41 715.34 1026.08C717.39 1026.75 719.43 1027.41 721.48 1028.05C723.53 1028.70 725.58 1029.34 727.63 1029.97C729.68 1030.60 731.73 1031.22 733.79 1031.83C735.84 1032.44 737.90 1033.03 739.96 1033.62C742.02 1034.21 744.08 1034.79 746.14 1035.35C748.20 1035.92 750.27 1036.47 752.34 1037.02C754.40 1037.56 756.47 1038.09 758.55 1038.62C760.62 1039.14 762.69 1039.65 764.77 1040.15C766.85 1040.65 768.93 1041.14 771.01 1041.62C773.10 1042.10 775.18 1042.57 777.27 1043.03C779.36 1043.48 781.45 1043.93 783.54 1044.36C785.64 1044.80 787.73 1045.22 789.83 1045.63C791.93 1046.04 794.03 1046.44 796.14 1046.83C798.25 1047.22 800.35 1047.60 802.47 1047.96C804.58 1048.33 806.69 1048.68 808.81 1049.02C810.93 1049.36 813.05 1049.69 815.18 1050.01C817.30 1050.33 819.43 1050.64 821.56 1050.93C823.69 1051.23 825.83 1051.51 827.97 1051.78C830.11 1052.05 832.25 1052.31 834.39 1052.56C836.54 1052.80 838.69 1053.04 840.84 1053.26C843.00 1053.48 845.15 1053.69 847.32 1053.89C849.48 1054.09 852.19 1054.31 853.81 1054.45C855.44 1054.58 856.53 1054.66 857.07 1054.70" fill="none" stroke="#000000" stroke-width="4.5" stroke-linecap="round" stroke-dasharray="8.50 13.92" stroke-dashoffset="19.29"/></g>
<g id="red-points"><path d="M260.05 539.70 V576.30" stroke="#ff0000" stroke-width="6.4" fill="none"/>
<path d="M242.05 539.70 H278.05" stroke="#ff0000" stroke-width="6.4" fill="none"/>
<path d="M242.05 576.30 H278.05" stroke="#ff0000" stroke-width="6.4" fill="none"/>
<circle cx="260.05" cy="558.00" r="18.0" fill="#ff0000"/>
<path d="M298.79 842.80 V898.80" stroke="#ff0000" stroke-width="6.4" fill="none"/>
<path d="M280.79 842.80 H316.79" stroke="#ff0000" stroke-width="6.4" fill="none"/>
<path d="M280.79 898.80 H316.79" stroke="#ff0000" stroke-width="6.4" fill="none"/>
<circle cx="298.79" cy="870.80" r="18.0" fill="#ff0000"/>
<path d="M337.54 1027.50 V1056.10" stroke="#ff0000" stroke-width="6.4" fill="none"/>
<path d="M319.54 1027.50 H355.54" stroke="#ff0000" stroke-width="6.4" fill="none"/>
<circle cx="337.54" cy="1056.10" r="18.0" fill="#ff0000"/></g>
<g id="blue-points"><path d="M260.05 235.20 V271.40" stroke="#0000c8" stroke-width="6.4" fill="none"/>
<path d="M242.05 235.20 H278.05" stroke="#0000c8" stroke-width="6.4" fill="none"/>
<path d="M242.05 271.40 H278.05" stroke="#0000c8" stroke-width="6.4" fill="none"/>
<circle cx="260.05" cy="253.20" r="18.0" fill="#0000c8"/>
<path d="M298.79 693.50 V749.90" stroke="#0000c8" stroke-width="6.4" fill="none"/>
<path d="M280.79 693.50 H316.79" stroke="#0000c8" stroke-width="6.4" fill="none"/>
<path d="M280.79 749.90 H316.79" stroke="#0000c8" stroke-width="6.4" fill="none"/>
<circle cx="298.79" cy="721.60" r="18.0" fill="#0000c8"/>
<path d="M337.54 945.60 V1001.60" stroke="#0000c8" stroke-width="6.4" fill="none"/>
<path d="M319.54 945.60 H355.54" stroke="#0000c8" stroke-width="6.4" fill="none"/>
<path d="M319.54 1001.60 H355.54" stroke="#0000c8" stroke-width="6.4" fill="none"/>
<circle cx="337.54" cy="973.60" r="18.0" fill="#0000c8"/>
<path d="M453.77 1027.50 V1056.10" stroke="#0000c8" stroke-width="6.4" fill="none"/>
<path d="M435.77 1027.50 H471.77" stroke="#0000c8" stroke-width="6.4" fill="none"/>
<circle cx="453.77" cy="1056.10" r="18.0" fill="#0000c8"/></g>
<g id="black-points"><circle cx="221.30" cy="113.70" r="18.0" fill="#000000"/>
<circle cx="260.05" cy="268.30" r="18.0" fill="#000000"/>
<path d="M298.79 374.70 V412.30" stroke="#000000" stroke-width="6.4" fill="none"/>
<path d="M280.79 374.70 H316.79" stroke="#000000" stroke-width="6.4" fill="none"/>
<path d="M280.79 412.30 H316.79" stroke="#000000" stroke-width="6.4" fill="none"/>
<circle cx="298.79" cy="393.50" r="18.0" fill="#000000"/>
<path d="M337.54 481.00 V537.00" stroke="#000000" stroke-width="6.4" fill="none"/>
<path d="M319.54 481.00 H355.54" stroke="#000000" stroke-width="6.4" fill="none"/>
<path d="M319.54 537.00 H355.54" stroke="#000000" stroke-width="6.4" fill="none"/>
<circle cx="337.54" cy="509.00" r="18.0" fill="#000000"/>
<path d="M453.77 822.80 V877.20" stroke="#000000" stroke-width="6.4" fill="none"/>
<path d="M435.77 822.80 H471.77" stroke="#000000" stroke-width="6.4" fill="none"/>
<path d="M435.77 877.20 H471.77" stroke="#000000" stroke-width="6.4" fill="none"/>
<circle cx="453.77" cy="850.00" r="18.0" fill="#000000"/>
<path d="M570.00 1027.50 V1056.10" stroke="#000000" stroke-width="6.4" fill="none"/>
<path d="M552.00 1027.50 H588.00" stroke="#000000" stroke-width="6.4" fill="none"/>
<circle cx="570.00" cy="1056.10" r="18.0" fill="#000000"/>
<path d="M686.24 1027.50 V1056.10" stroke="#000000" stroke-width="6.4" fill="none"/>
<path d="M668.24 1027.50 H704.24" stroke="#000000" stroke-width="6.4" fill="none"/>
<circle cx="686.24" cy="1056.10" r="18.0" fill="#000000"/>
<path d="M918.71 1027.50 V1056.10" stroke="#000000" stroke-width="6.4" fill="none"/>
<path d="M900.71 1027.50 H936.71" stroke="#000000" stroke-width="6.4" fill="none"/>
<circle cx="918.71" cy="1056.10" r="18.0" fill="#000000"/>
<path d="M1151.18 1027.50 V1056.10" stroke="#000000" stroke-width="6.4" fill="none"/>
<path d="M1133.18 1027.50 H1169.18" stroke="#000000" stroke-width="6.4" fill="none"/>
<circle cx="1151.18" cy="1056.10" r="18.0" fill="#000000"/>
<path d="M1383.65 1027.50 V1056.10" stroke="#000000" stroke-width="6.4" fill="none"/>
<path d="M1365.65 1027.50 H1401.65" stroke="#000000" stroke-width="6.4" fill="none"/>
<circle cx="1383.65" cy="1056.10" r="18.0" fill="#000000"/>
<path d="M1616.12 1027.50 V1056.10" stroke="#000000" stroke-width="6.4" fill="none"/>
<path d="M1598.12 1027.50 H1634.12" stroke="#000000" stroke-width="6.4" fill="none"/>
<circle cx="1616.12" cy="1056.10" r="18.0" fill="#000000"/></g>
<g id="ticklabels" font-family="'Liberation Serif', 'Times New Roman', serif" font-size="75.6" fill="#000"><text transform="translate(201.7 1081.9) scale(0.975 1)" text-anchor="end">0.0</text>
<text transform="translate(201.7 893.4) scale(0.975 1)" text-anchor="end">0.2</text>
<text transform="translate(201.7 704.9) scale(0.975 1)" text-anchor="end">0.4</text>
<text transform="translate(201.7 516.3) scale(0.975 1)" text-anchor="end">0.6</text>
<text transform="translate(201.7 327.8) scale(0.975 1)" text-anchor="end">0.8</text>
<text transform="translate(201.7 139.3) scale(0.975 1)" text-anchor="end">1.0</text>
<text transform="translate(221.0 1142.8) scale(0.975 1)" text-anchor="middle">0</text>
<text transform="translate(531.2 1142.8) scale(0.975 1)" text-anchor="middle">40</text>
<text transform="translate(841.4 1142.8) scale(0.975 1)" text-anchor="middle">80</text>
<text transform="translate(1151.6 1142.8) scale(0.975 1)" text-anchor="middle">120</text>
<text transform="translate(1461.8 1142.8) scale(0.975 1)" text-anchor="middle">160</text>
<text transform="translate(1772.0 1142.8) scale(0.975 1)" text-anchor="middle">200</text></g>
<text id="xtitle" x="997" y="1238.3" text-anchor="middle" font-family="'Liberation Serif', 'Times New Roman', serif" font-size="73" fill="#000">Time/ min</text>
<text id="ytitle" transform="translate(66 745) rotate(-90)" font-family="'Liberation Serif', 'Times New Roman', serif" font-weight="bold" font-size="73" fill="#000"><tspan x="-2.0" y="4.0" font-size="73">[</tspan><tspan x="22.3" y="0.0" font-size="73">CAF</tspan><tspan x="172.3" y="17.6" font-size="55">f</tspan><tspan x="182.6" y="4.0" font-size="73">]</tspan><tspan x="213.4" y="0.0" font-size="73">/</tspan><tspan x="235.2" y="4.0" font-size="73">[</tspan><tspan x="259.5" y="0.0" font-size="73">CAF</tspan><tspan x="411.2" y="17.6" font-size="55" textLength="20.9" lengthAdjust="spacingAndGlyphs" stroke="#000" stroke-width="1">0</tspan><tspan x="436.5" y="4.0" font-size="73">]</tspan></text>
<text id="panel" x="1569" y="166" font-family="'Liberation Serif', 'Times New Roman', serif" font-weight="bold" font-size="111" fill="#000">c</text>
<text font-family="'Liberation Serif', 'Times New Roman', serif" fill="#ff0000"><tspan x="366.9" y="276.1" font-size="54.4">0.051 </tspan><tspan x="506.5" y="276.1" font-size="56.4">min</tspan><tspan x="587.1" y="257.0" font-size="41.5" fill="#ff0000">−</tspan><tspan x="610.1" y="251.6" font-size="41.5">1</tspan></text>
<text font-family="'Liberation Serif', 'Times New Roman', serif" fill="#0000ff"><tspan x="560.2" y="611.0" font-size="54.4">0.163 </tspan><tspan x="699.8" y="611.0" font-size="56.4">min</tspan><tspan x="780.4" y="591.9" font-size="41.5" fill="#000000">−</tspan><tspan x="803.4" y="586.5" font-size="41.5">1</tspan></text>
</svg>
</body>
</html>
